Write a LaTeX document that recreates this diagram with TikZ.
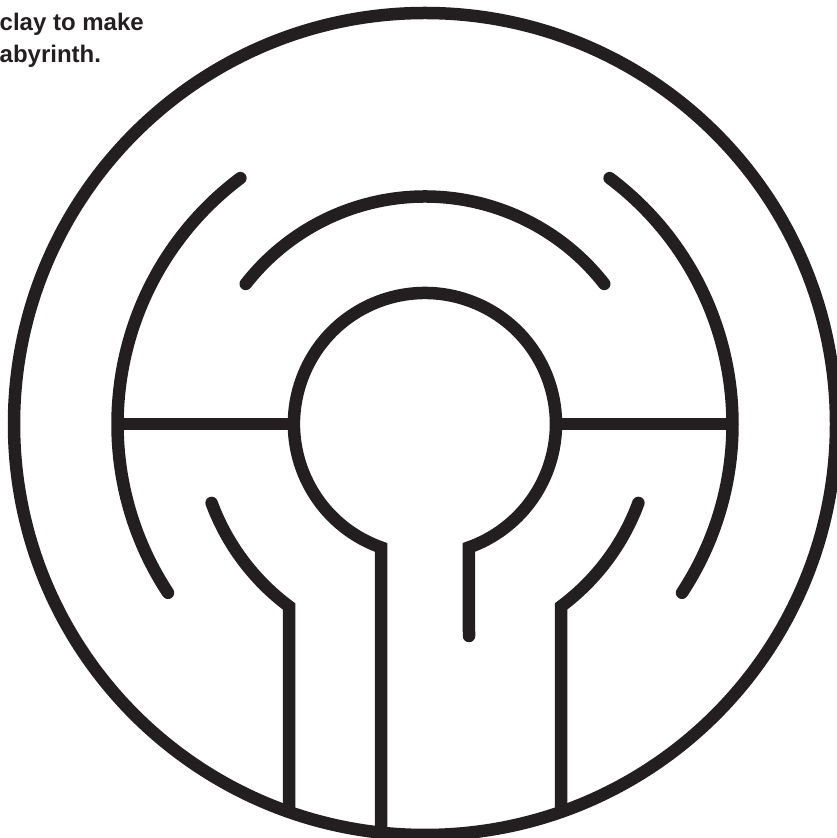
\documentclass[tikz,border=0pt]{standalone}
\usepackage{fontspec}
\setmainfont{Liberation Sans}
\definecolor{ink}{HTML}{231F20}
\begin{document}
\begin{tikzpicture}[x=1pt,y=1pt,
  wall/.style={draw=ink,line width=12.5pt,line cap=round,line join=miter},
  caption/.style={anchor=base west,inner sep=0pt,text=ink,font=\fontsize{24}{32}\selectfont\bfseries}]
\useasboundingbox (0,0) rectangle (837,838);
\clip (0,0) rectangle (837,838);
\coordinate (C) at (425,414);
% outer circle
\draw[wall] (C) circle[radius=411];
% inner circle with entrance stems
\draw[wall] (381,5.4) -- (381,290.6) arc[start angle=250.4,end angle=-70.4,radius=131] -- (469,202);
% ring 2 top arc
\draw[wall] ([shift={(38:227.5)}]C) arc[start angle=38,end angle=142,radius=227.5];
% ring 2 lower arcs with stems
\draw[wall] (289,26.2) -- (289,231.6) arc[start angle=233.3,end angle=200.3,radius=227.5];
\draw[wall] (561,26.2) -- (561,231.6) arc[start angle=-53.3,end angle=-20.3,radius=227.5];
% ring 3 arcs
\draw[wall] ([shift={(126.9:307.5)}]C) arc[start angle=126.9,end angle=213.3,radius=307.5];
\draw[wall] ([shift={(53.1:307.5)}]C) arc[start angle=53.1,end angle=-33.3,radius=307.5];
% spokes
\draw[wall,line cap=butt] (294,414) -- (117.5,414);
\draw[wall,line cap=butt] (556,414) -- (732.5,414);
% caption
\node[caption] (t1) at (-0.5,807.3) {clay to make};
\node[caption] (t2) at (-0.5,775.3) {abyrinth.};
\end{tikzpicture}
\end{document}
